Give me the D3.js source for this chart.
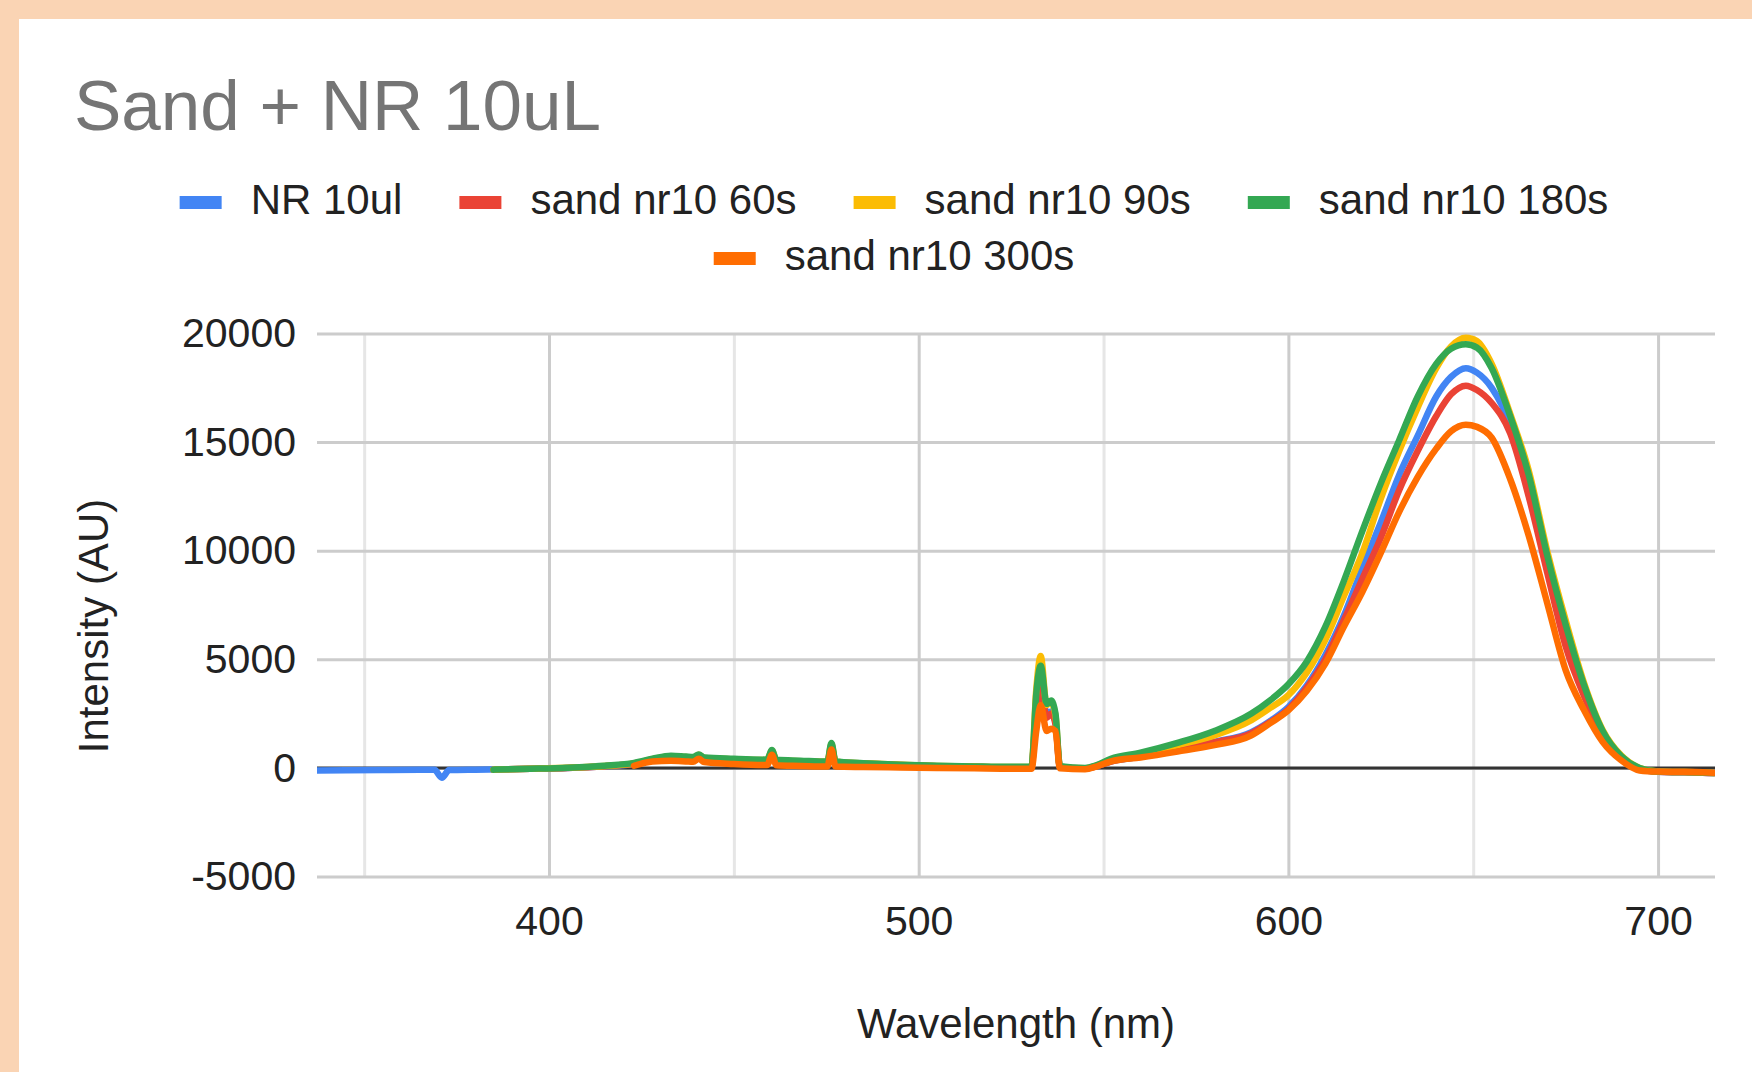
<!DOCTYPE html>
<html>
<head>
<meta charset="utf-8">
<script src="https://cdn.jsdelivr.net/npm/d3@7"></script>
<style>
  body { margin: 0; background: #fad4b4; }
  svg { display: block; font-family: Arial, "Liberation Sans", sans-serif; }
</style>
</head>
<body>
<div id="chart"></div>
<script>
// wavelength grid (nm) shared by all series, null = no reading
var wavelengths = [337, 345, 355, 365, 369, 371, 373, 380, 385, 395, 405, 415, 423, 428, 433, 437, 439, 440.5, 442, 450,
	459, 460.3, 461.5, 468, 475.3, 476.4, 477.5, 485, 495, 505, 515, 525, 530.5, 531.8, 533, 534.6, 535.8, 537, 538.2, 545,
	548, 552, 560, 570, 580, 590, 595, 600, 605, 610, 615, 620, 625, 630, 635, 640, 644, 648, 651, 655,
	660, 665, 670, 675, 680, 685, 690, 695, 700, 705, 710, 715];

var nr10ul = [-120, -110, -100, -90, -90, -450, -100, -80, -70, -40, 0, 80, 180, 350, 480, 450, 430, 520, 420, 360,
	320, 700, 310, 280, 250, 950, 250, 190, 120, 80, 50, 30, 40, 2800, 4000, 2500, 2600, 2100, 50, -30,
	80, 300, 520, 850, 1200, 1650, 2150, 2800, 3800, 5200, 7000, 9200, 11300, 13500, 15300, 17100, 18000, 18400, 18200, 17500,
	15800, 12800, 9300, 5900, 3500, 1600, 480, -50, -180, -200, -210, -240];

var sand60 = [null, null, null, null, null, null, null, null, -80, -40, 0, 80, 190, 360, 490, 460, 440, 540, 430, 370,
	330, 720, 320, 290, 260, 1000, 260, 200, 130, 80, 50, 30, 40, 2700, 3700, 2300, 2500, 2000, 40, -40,
	70, 290, 510, 830, 1180, 1600, 2100, 2700, 3700, 5000, 6800, 8700, 10600, 12800, 14600, 16200, 17200, 17600, 17400, 16800,
	15400, 12500, 9000, 5600, 3300, 1500, 450, -50, -180, -200, -210, -240];

var sand90 = [null, null, null, null, null, null, null, null, -80, -40, 10, 90, 210, 400, 540, 500, 480, 600, 460, 400,
	360, 800, 350, 310, 280, 1100, 280, 210, 140, 90, 60, 40, 50, 3600, 5150, 2900, 3000, 2400, 60, -20,
	100, 380, 650, 1050, 1500, 2200, 2750, 3350, 4400, 5900, 7900, 9900, 12400, 14600, 16600, 18400, 19400, 19800, 19650, 18600,
	16300, 13700, 10000, 6800, 3900, 1750, 580, 0, -170, -190, -200, -230];

var sand180 = [null, null, null, null, null, null, null, null, -80, -40, 10, 100, 230, 420, 560, 520, 500, 620, 480, 420,
	380, 820, 370, 330, 290, 1150, 290, 220, 150, 100, 70, 50, 60, 3400, 4700, 2950, 3100, 2500, 80, 0,
	120, 420, 700, 1150, 1700, 2500, 3100, 3850, 4900, 6500, 8600, 10900, 13100, 15100, 17100, 18600, 19300, 19500, 19350, 18400,
	16200, 13500, 9800, 6600, 3800, 1700, 550, 0, -170, -190, -200, -230];

var sand300 = [null, null, null, null, null, null, null, null, null, null, null, null, 100, 300, 330, 300, 280, 420, 270, 180,
	130, 600, 120, 90, 60, 850, 60, 40, 20, 0, -20, -40, -40, 1700, 2900, 1700, 1800, 1700, -20, -60,
	60, 300, 480, 750, 1050, 1500, 2050, 2650, 3550, 4800, 6500, 8100, 9900, 11800, 13400, 14700, 15500, 15800, 15700, 15200,
	13300, 10700, 7600, 4500, 2650, 1200, 350, -120, -170, -180, -190, -220];

var seriesNames = ["NR 10ul", "sand nr10 60s", "sand nr10 90s", "sand nr10 180s", "sand nr10 300s"];
var seriesValues = [nr10ul, sand60, sand90, sand180, sand300];
var seriesColors = ["#4285f4", "#ea4335", "#fbbc04", "#34a853", "#ff6d01"];

var yTicks = [-5000, 0, 5000, 10000, 15000, 20000];
var xTicks = [400, 500, 600, 700];
var xMinorTicks = [350, 450, 550, 650];

(function() {
	var W = 1752, H = 1072;
	var plot = { left: 317, right: 1715, top: 333.5, bottom: 876.5 };
	var pw = plot.right - plot.left, ph = plot.bottom - plot.top;

	var svg = d3.select("#chart")
		.append("svg")
		.attr("width", W)
		.attr("height", H);

	// white card on the peach page
	svg.append("rect")
		.attr("x", 19).attr("y", 19)
		.attr("width", W - 19).attr("height", H - 19)
		.attr("fill", "#ffffff");

	svg.append("text")
		.attr("x", 74)
		.attr("y", 130)
		.attr("font-size", "71px")
		.attr("fill", "#757575")
		.text("Sand + NR 10uL");

	var x = d3.scaleLinear().domain([337.24, 715.4]).range([plot.left, plot.right]);
	var y = d3.scaleLinear().domain([-5000, 20000]).range([plot.bottom, plot.top]);

	// plain hyphen for negatives, like the original
	var plain = function(d) { return String(d); };

	// minor vertical gridlines
	svg.append("g")
		.attr("class", "grid minor")
		.attr("transform", "translate(0," + plot.bottom + ")")
		.call(d3.axisBottom(x).tickValues(xMinorTicks).tickSize(-ph).tickFormat(""))
		.call(function(g) { g.select(".domain").remove(); })
		.selectAll("line")
		.attr("stroke", "#e6e6e6")
		.attr("stroke-width", 3);

	// x axis + major vertical gridlines
	var xg = svg.append("g")
		.attr("class", "axis x-axis")
		.attr("transform", "translate(0," + plot.bottom + ")")
		.call(d3.axisBottom(x).tickValues(xTicks).tickSize(-ph).tickPadding(29.5).tickFormat(plain));
	xg.select(".domain").remove();
	xg.selectAll("line").attr("stroke", "#cccccc").attr("stroke-width", 3);
	xg.selectAll("text").attr("font-size", "41px").attr("fill", "#222222").attr("font-family", null);

	// y axis + horizontal gridlines
	var yg = svg.append("g")
		.attr("class", "axis y-axis")
		.attr("transform", "translate(" + plot.left + ",0)")
		.call(d3.axisLeft(y).tickValues(yTicks).tickSize(-pw).tickPadding(21).tickFormat(plain));
	yg.select(".domain").remove();
	yg.selectAll("line").attr("stroke", "#cccccc").attr("stroke-width", 3);
	yg.selectAll("text").attr("font-size", "41px").attr("fill", "#222222").attr("font-family", null);

	// baseline at zero
	svg.append("line")
		.attr("x1", plot.left).attr("x2", plot.right)
		.attr("y1", y(0)).attr("y2", y(0))
		.attr("stroke", "#333333")
		.attr("stroke-width", 3);

	svg.append("clipPath")
		.attr("id", "plotclip")
		.append("rect")
		.attr("x", plot.left).attr("y", plot.top - 10)
		.attr("width", pw).attr("height", ph + 10);

	var line = d3.line()
		.defined(function(d) { return d[1] != null; })
		.x(function(d) { return x(d[0]); })
		.y(function(d) { return y(d[1]); })
		.curve(d3.curveMonotoneX);

	var series = seriesValues.map(function(vals, i) {
		return { name: seriesNames[i], color: seriesColors[i],
			points: wavelengths.map(function(w, j) { return [w, vals[j]]; }) };
	});

	svg.append("g")
		.attr("clip-path", "url(#plotclip)")
		.selectAll("path")
		.data(series)
		.enter().append("path")
		.attr("d", function(d) { return line(d.points); })
		.attr("fill", "none")
		.attr("stroke", function(d) { return d.color; })
		.attr("stroke-width", 6.5)
		.attr("stroke-linejoin", "round")
		.attr("stroke-linecap", "round");

	// legend, wrapped and centred like the original
	var legend = svg.append("g").attr("class", "legend");
	var swW = 42, swH = 13, swGap = 29, itemGap = 57, maxRow = 1500, rowH = 56, centerX = 894;
	var items = series.map(function(d) {
		var t = legend.append("text")
			.attr("font-size", "42px")
			.attr("fill", "#222222")
			.text(d.name);
		return { d: d, node: t, w: swW + swGap + t.node().getComputedTextLength() };
	});
	var rows = [[]], rowW = [0];
	items.forEach(function(it) {
		var r = rows.length - 1;
		var add = (rows[r].length ? itemGap : 0) + it.w;
		if (rows[r].length && rowW[r] + add > maxRow) {
			rows.push([it]); rowW.push(it.w);
		} else {
			rows[r].push(it); rowW[r] += add;
		}
	});
	rows.forEach(function(row, r) {
		var cx = centerX - rowW[r] / 2;
		var base = 214 + r * rowH;
		row.forEach(function(it) {
			legend.append("rect")
				.attr("x", cx).attr("y", base - 18)
				.attr("width", swW).attr("height", swH)
				.attr("fill", it.d.color);
			it.node.attr("x", cx + swW + swGap).attr("y", base);
			cx += it.w + itemGap;
		});
	});

	svg.append("text")
		.attr("x", (plot.left + plot.right) / 2)
		.attr("y", 1038)
		.attr("text-anchor", "middle")
		.attr("font-size", "42px")
		.attr("fill", "#222222")
		.text("Wavelength (nm)");

	svg.append("text")
		.attr("transform", "translate(108,626) rotate(-90)")
		.attr("text-anchor", "middle")
		.attr("font-size", "42px")
		.attr("fill", "#222222")
		.text("Intensity (AU)");
})();
</script>
</body>
</html>
